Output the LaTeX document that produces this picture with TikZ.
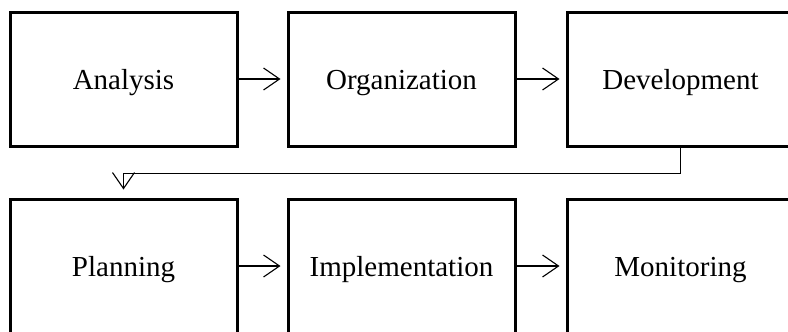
\documentclass[tikz,border=0pt]{standalone}
\usepackage{fontspec}
\setmainfont{Liberation Serif}
\usetikzlibrary{arrows.meta}
\begin{document}
\begin{tikzpicture}[x=1pt,y=-1pt,
  stage/.style={draw, line width=3pt, minimum width=227pt, minimum height=134pt,
    inner sep=0pt, text height=20pt, text depth=0pt, font=\fontsize{29}{33}\selectfont},
  flow/.style={line width=1.1pt, -{Straight Barb[length=16pt,width=22pt,line width=1.1pt]}, shorten >=6pt},
  feed/.style={line width=0.9pt, -{Straight Barb[length=16pt,width=22pt,line width=1.1pt]}, shorten >=8pt}]
  \useasboundingbox (0,0) rectangle (788,332);
  \clip (0,0) rectangle (788,332);
  % upper row
  \node[stage] (ana) at (123.5,79) {Analysis};
  \node[stage] (org) at (401.5,79) {Organization};
  \node[stage] (dev) at (680.5,79) {Development};
  % lower row
  \node[stage] (pla) at (123.5,266) {Planning};
  \node[stage] (imp) at (401.5,266) {Implementation};
  \node[stage] (mon) at (680.5,266) {Monitoring};
  % connectors
  \draw[flow] (ana) -- (org);
  \draw[flow] (org) -- (dev);
  \draw[flow] (pla) -- (imp);
  \draw[flow] (imp) -- (mon);
  \draw[feed] (dev.south) -- ++(0,26) -| (pla.north);
\end{tikzpicture}
\end{document}
